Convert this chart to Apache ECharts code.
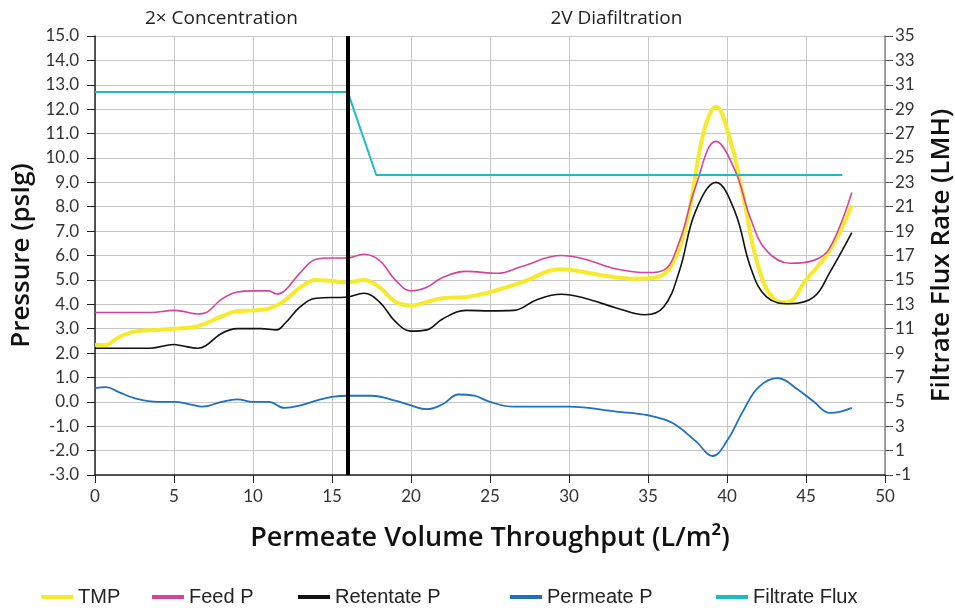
<!DOCTYPE html>
<html style="height: 100%">
  <head>
    <meta charset="utf-8" />
  </head>
  <body style="height: 100%; margin: 0; background: #fff">
    <div id="container" style="width: 955px; height: 613px"></div>

    <script
      type="text/javascript"
      src="https://cdn.jsdelivr.net/npm/echarts@6/dist/echarts.min.js"
    ></script>

    <script type="text/javascript">
      // [throughput L/m2, value]
      var tmpData = [
        [0, 2.34], [0.6, 2.32], [1.5, 2.65], [2.5, 2.88], [4, 2.95], [5, 3.0],
        [6.5, 3.1], [8, 3.5], [9, 3.72], [10, 3.75], [11, 3.82], [12, 4.15],
        [13, 4.7], [14, 5.0], [15, 4.95], [16, 4.9], [17, 5.0], [18, 4.7],
        [19, 4.1], [20, 3.95], [21, 4.1], [22, 4.25], [23.5, 4.3], [25, 4.5],
        [27, 4.9], [29.5, 5.44], [32, 5.2], [34, 5.05], [35.5, 5.1], [36.5, 5.6],
        [37.5, 7.5], [38.5, 11.0], [39.3, 12.1], [40.3, 10.5], [41, 8.5],
        [42, 5.5], [43, 4.2], [43.8, 4.08], [45, 5.0], [46.5, 6.2], [47.9, 8.05]
      ];
      var feedData = [
        [0, 3.66], [3.5, 3.66], [5, 3.75], [5.5, 3.72], [6.5, 3.6], [7, 3.65],
        [8, 4.2], [9, 4.5], [10, 4.55], [11, 4.55], [11.5, 4.42], [12, 4.55],
        [13, 5.3], [14, 5.85], [15, 5.9], [16, 5.9], [17, 6.05], [18, 5.8],
        [19, 5.0], [20, 4.55], [21, 4.7], [22, 5.1], [23.5, 5.35], [25.5, 5.27],
        [27, 5.55], [29.5, 6.0], [31, 5.85], [33, 5.45], [35, 5.3], [36, 5.4],
        [37, 6.6], [38, 8.8], [39.3, 10.68], [40.5, 9.5], [41.5, 7.5],
        [42.5, 6.2], [44, 5.68], [45.5, 5.8], [46.5, 6.3], [47.9, 8.58]
      ];
      var retentateData = [
        [0, 2.2], [3.5, 2.2], [5, 2.35], [5.5, 2.3], [6.5, 2.2], [7, 2.3],
        [8, 2.8], [9, 3.0], [10.5, 3.0], [11.5, 2.95], [12, 3.2], [13, 3.9],
        [14, 4.25], [16, 4.3], [17, 4.45], [18, 4.1], [19, 3.3], [20, 2.9],
        [21, 2.95], [22, 3.4], [23.5, 3.75], [25, 3.73], [26.5, 3.75], [28, 4.2],
        [29.5, 4.41], [31, 4.25], [33, 3.85], [34.8, 3.57], [36, 3.9], [37, 5.4],
        [38, 7.8], [39.3, 9.0], [40.5, 7.8], [41.5, 5.5], [42.5, 4.3], [44, 4.02],
        [45.5, 4.3], [46.5, 5.3], [47.9, 6.94]
      ];
      var permeateData = [
        [0, 0.56], [0.7, 0.6], [1.5, 0.4], [2.5, 0.15], [4, 0.0], [5, 0.0],
        [6, -0.1], [6.8, -0.2], [8, 0.0], [9, 0.1], [10, 0.0], [11, 0.0],
        [12, -0.25], [13, -0.15], [14, 0.05], [15, 0.2], [16, 0.25], [17.5, 0.25],
        [19, 0.05], [20, -0.15], [21, -0.3], [22, -0.1], [23, 0.3], [24, 0.25],
        [25, 0.0], [26.5, -0.2], [30, -0.2], [33, -0.4], [35, -0.55], [36.5, -0.85],
        [38, -1.6], [39.1, -2.22], [40, -1.6], [41, -0.4], [42, 0.6], [43.2, 0.97],
        [44.5, 0.5], [45.5, 0.0], [46.5, -0.45], [47.2, -0.4], [47.9, -0.25]
      ];
      var fluxData = [
        [0, 30.4], [16, 30.4], [17.8, 23.6], [47.3, 23.6]
      ];
      var phaseNames = ["2× Concentration", "2V Diafiltration"];
      var phaseBounds = [0, 16, 50];
      var seriesNames = ["TMP", "Feed P", "Retentate P", "Permeate P", "Filtrate Flux"];

      var FONT = "Lato";
      var NAME_FONT = "Open Sans";
      var dom = document.getElementById("container");
      var myChart = echarts.init(dom);

      var legendLeft = [41, 152, 298, 510, 716];
      var legends = seriesNames.map(function (n, i) {
        return {
          data: [n],
          left: legendLeft[i],
          top: 587,
          padding: 0,
          icon: "rect",
          itemWidth: 32,
          itemHeight: 4,
          itemGap: 8,
          textStyle: { fontSize: 20, color: "#222", fontFamily: "Liberation Sans" },
        };
      });

      var nameStyle = { fontSize: 26, fontWeight: 600, color: "#111", fontFamily: NAME_FONT };

      var option = {
        animation: false,
        grid: { left: 95, right: 70, top: 36, bottom: 138, outerBoundsMode: "none" },
        legend: legends,
        xAxis: {
          type: "value",
          min: 0,
          max: 50,
          interval: 5,
          name: "Permeate Volume Throughput (L/m²)",
          nameLocation: "middle",
          nameGap: 50,
          nameTextStyle: { fontSize: 27, fontWeight: 600, color: "#111", fontFamily: NAME_FONT },
          axisLine: { onZero: false, lineStyle: { color: "#222", width: 1.5 } },
          axisTick: { show: true, length: 8, lineStyle: { color: "#222" } },
          axisLabel: { fontSize: 17, color: "#333", fontFamily: FONT, margin: 13 },
          splitLine: { show: true, lineStyle: { color: "#c6c6c6", width: 1 } },
        },
        yAxis: [
          {
            type: "value",
            min: -3,
            max: 15,
            interval: 1,
            name: "Pressure (psIg)",
            nameLocation: "middle",
            nameGap: 54,
            nameTextStyle: nameStyle,
            axisLine: { show: true, onZero: false, lineStyle: { color: "#222", width: 1.5 } },
            axisTick: { show: true, length: 8, lineStyle: { color: "#222" } },
            axisLabel: {
              fontSize: 17,
              color: "#333",
              fontFamily: FONT,
              margin: 16,
              formatter: function (v) { return v.toFixed(1); },
            },
            splitLine: { show: true, lineStyle: { color: "#c6c6c6", width: 1 } },
          },
          {
            type: "value",
            min: -1,
            max: 35,
            interval: 2,
            name: "Filtrate Flux Rate (LMH)",
            nameLocation: "middle",
            nameGap: 44,
            nameRotate: 90,
            nameTextStyle: nameStyle,
            axisLine: { show: true, onZero: false, lineStyle: { color: "#888", width: 1.5 } },
            axisTick: { show: true, length: 8, lineStyle: { color: "#555" } },
            axisLabel: { fontSize: 17, color: "#333", fontFamily: FONT, margin: 10 },
            splitLine: { show: false },
          },
        ],
        series: [
          {
            name: "Retentate P",
            type: "line",
            data: retentateData,
            smooth: 0.4,
            showSymbol: false,
            color: "#111",
            lineStyle: { width: 1.6 },
            z: 3,
            markArea: {
              silent: true,
              itemStyle: { color: "rgba(0,0,0,0)" },
              label: {
                show: true,
                position: "top",
                distance: 8,
                fontSize: 19,
                color: "#222",
                fontFamily: NAME_FONT,
              },
              data: [
                [{ name: phaseNames[0], xAxis: phaseBounds[0] }, { xAxis: phaseBounds[1] }],
                [{ name: phaseNames[1], xAxis: phaseBounds[1] }, { xAxis: phaseBounds[2] }],
              ],
            },
            markLine: {
              silent: true,
              symbol: ["none", "none"],
              label: { show: false },
              lineStyle: { color: "#000", width: 4, type: "solid" },
              data: [{ xAxis: phaseBounds[1] }],
            },
          },
          {
            name: "Feed P",
            type: "line",
            data: feedData,
            smooth: 0.4,
            showSymbol: false,
            color: "#d4449b",
            lineStyle: { width: 1.6 },
            z: 3,
          },
          {
            name: "TMP",
            type: "line",
            data: tmpData,
            smooth: 0.4,
            showSymbol: false,
            color: "#f6ea2c",
            lineStyle: { width: 4 },
            z: 2,
          },
          {
            name: "Permeate P",
            type: "line",
            data: permeateData,
            smooth: 0.4,
            showSymbol: false,
            color: "#1f70bf",
            lineStyle: { width: 1.8 },
            z: 3,
          },
          {
            name: "Filtrate Flux",
            type: "line",
            yAxisIndex: 1,
            data: fluxData,
            showSymbol: false,
            color: "#1dbdbf",
            lineStyle: { width: 2 },
            z: 3,
          },
        ],
      };

      myChart.setOption(option);
    </script>
  </body>
</html>
